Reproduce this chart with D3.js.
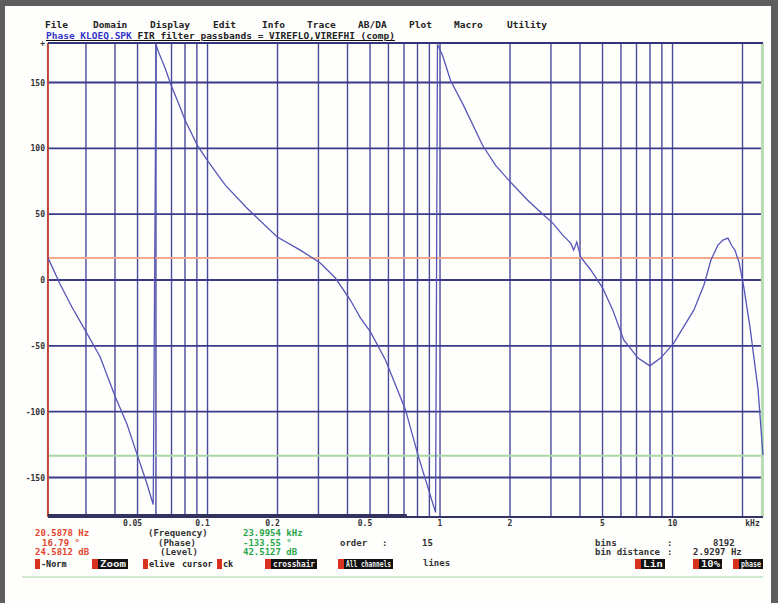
<!DOCTYPE html>
<html>
<head>
<meta charset="utf-8">
<script src="https://cdn.jsdelivr.net/npm/d3@7"></script>
<style>
  body { margin: 0; background: #fff; }
  svg { display: block; }
  text { font-family: "DejaVu Sans Mono", monospace; font-weight: bold; }
</style>
</head>
<body>
<svg id="chart"></svg>
<script>
// Phase trace (kHz, degrees), wraps at +/-180
const freqKHz = [
  0.0206, 0.0232, 0.0261, 0.0297, 0.0345, 0.0401, 0.0451, 0.0498, 0.0545, 0.0584,
  0.0601, 0.0613, 0.0658, 0.0698, 0.0748, 0.0802, 0.0904, 0.0998, 0.1192, 0.148,
  0.1995, 0.2506, 0.3055, 0.3548, 0.4113, 0.4546, 0.502, 0.582, 0.643, 0.710,
  0.807, 0.892, 0.957,
  0.975, 1.026, 1.110, 1.262, 1.524, 1.734, 2.012, 2.383, 2.709, 3.054,
  3.371, 3.648, 3.758, 3.873, 4.03, 4.45, 5.01, 5.53, 6.17, 7.09,
  7.98, 8.91, 10.14, 12.36, 13.65, 14.63, 15.68, 16.48, 17.31, 18.02,
  18.55, 19.32, 20.29, 21.53, 23.33, 24.5
];
const phaseDeg = [
  16.8, -3, -20.5, -37.9, -58.3, -88.6, -109.8, -132.6, -153, -170.5,
  178.8, 174, 160.6, 147.7, 134.8, 121.2, 102.3, 90.9, 72, 54.5,
  32.6, 22.7, 12.9, 1.5, -15.2, -28.8, -39.4, -60.6, -79.5, -98.5,
  -134, -159, -176.5,
  178.8, 170.5, 151.5, 132.6, 102.3, 87.1, 74.2, 60.6, 51.5, 43.2,
  34.1, 28, 22.7, 28.8, 17.4, 7.6, -6.1, -22.7, -45.5, -59.1,
  -65.2, -59.1, -47.7, -22.7, -3.8, 15.2, 26.5, 30.3, 31.8, 25.8,
  22.7, 13.6, -6.1, -35.6, -83.3, -133
];

const yTicks = [150, 100, 50, 0, -50, -100, -150];
const xGridFreqs = [0.03, 0.04, 0.05, 0.06, 0.07, 0.08, 0.09, 0.1, 0.2, 0.3, 0.4, 0.5,
  0.6, 0.7, 0.8, 0.9, 1, 2, 3, 4, 5, 6, 7, 8, 9, 10, 20];
const xLabelFreqs = [0.05, 0.1, 0.2, 0.5, 1, 2, 5, 10];
const xLabelTexts = ["0.05", "0.1", "0.2", "0.5", "1", "2", "5", "10"];

// cursors: red (left) and green (right)
const redCursor = { freq: 0.0205878, phase: 16.79, level: "24.5812 dB" };
const greenCursor = { freq: 23.9954, phase: -133.55, level: "42.5127 dB" };

const menuItems = ["File", "Domain", "Display", "Edit", "Info", "Trace", "AB/DA", "Plot", "Macro", "Utility"];
const menuX = [45, 93, 150, 213, 262, 307, 358, 409, 454, 507];

const W = 778, H = 603;
const plotL = 48, plotR = 763, plotT = 43, plotB = 517;

const svg = d3.select("#chart").attr("width", W).attr("height", H);

// frame
svg.append("rect").attr("width", W).attr("height", H).attr("fill", "#5e5e5e");
svg.append("rect").attr("x", 5).attr("y", 6).attr("width", 766).attr("height", H - 6).attr("fill", "#fefefc");

const x = d3.scaleLog().domain([0.0206, 24.5]).range([plotL, plotR]);
const y = d3.scaleLinear().domain([-180, 180]).range([plotB, plotT]);

// menu bar + title
svg.selectAll(".menu").data(menuItems).enter().append("text")
  .attr("x", (d, i) => menuX[i]).attr("y", 28)
  .attr("font-size", 9.5).attr("fill", "#222").text(d => d);

const title = svg.append("text").attr("x", 46).attr("y", 39).attr("font-size", 9.5)
  .attr("text-decoration", "underline");
title.append("tspan").attr("fill", "#3434c8").text("Phase KLOEQ.SPK");
title.append("tspan").attr("fill", "#222").text(" FIR filter passbands = VIREFLO,VIREFHI (comp)");

// vertical grid
svg.append("g").selectAll("line").data(xGridFreqs).enter().append("line")
  .attr("x1", d => x(d)).attr("x2", d => x(d))
  .attr("y1", plotT).attr("y2", plotB)
  .attr("stroke", "#4a4a9c").attr("stroke-width", 1.4);

// horizontal grid
svg.append("g").selectAll("line").data(yTicks).enter().append("line")
  .attr("x1", plotL).attr("x2", plotR)
  .attr("y1", d => y(d)).attr("y2", d => y(d))
  .attr("stroke", "#3a3a88").attr("stroke-width", 1.8);

// cursor lines
svg.append("line").attr("x1", plotL).attr("x2", plotR)
  .attr("y1", y(redCursor.phase)).attr("y2", y(redCursor.phase))
  .attr("stroke", "#f5a88e").attr("stroke-width", 2);
svg.append("line").attr("x1", plotL).attr("x2", plotR)
  .attr("y1", y(greenCursor.phase)).attr("y2", y(greenCursor.phase))
  .attr("stroke", "#a6d8a6").attr("stroke-width", 2);
svg.append("line").attr("x1", x(redCursor.freq)).attr("x2", x(redCursor.freq))
  .attr("y1", plotT).attr("y2", plotB)
  .attr("stroke", "#c0463a").attr("stroke-width", 2);
svg.append("line").attr("x1", x(greenCursor.freq) + 1.5).attr("x2", x(greenCursor.freq) + 1.5)
  .attr("y1", plotT).attr("y2", plotB)
  .attr("stroke", "#b6dcb4").attr("stroke-width", 3);

// top and bottom borders
svg.append("line").attr("x1", plotL).attr("x2", plotR).attr("y1", plotT).attr("y2", plotT)
  .attr("stroke", "#333377").attr("stroke-width", 2);
svg.append("line").attr("x1", plotL).attr("x2", plotR).attr("y1", plotB).attr("y2", plotB)
  .attr("stroke", "#333366").attr("stroke-width", 2);
svg.append("line").attr("x1", plotL).attr("x2", x(0.72)).attr("y1", plotB - 1.5).attr("y2", plotB - 1.5)
  .attr("stroke", "#33335e").attr("stroke-width", 3);

// trace
const line = d3.line().x((d, i) => x(freqKHz[i])).y(d => y(d));
svg.append("path").datum(phaseDeg).attr("d", line)
  .attr("fill", "none").attr("stroke", "#5656b8").attr("stroke-width", 1.3);

// y labels
svg.append("g").selectAll("text").data(yTicks).enter().append("text")
  .attr("x", plotL - 3).attr("y", d => y(d) + 3)
  .attr("text-anchor", "end").attr("font-size", 8).attr("fill", "#333").text(d => d);
svg.append("text").attr("x", plotL - 3).attr("y", plotT + 3).attr("text-anchor", "end")
  .attr("font-size", 8).attr("fill", "#333").text("+");

// x labels
svg.append("g").selectAll("text").data(xLabelFreqs).enter().append("text")
  .attr("x", d => x(d) + (d < 1 ? -5 : 0)).attr("y", 526)
  .attr("text-anchor", "middle").attr("font-size", 8).attr("fill", "#333")
  .text((d, i) => xLabelTexts[i]);
svg.append("text").attr("x", x(20) + 10).attr("y", 526).attr("text-anchor", "middle")
  .attr("font-size", 8).attr("fill", "#333").text("kHz");

// readout panel
const rows = [536, 546, 555];
const redVals = [(redCursor.freq * 1000).toFixed(4) + " Hz", redCursor.phase.toFixed(2) + " \u00b0", redCursor.level];
const greenVals = [greenCursor.freq.toFixed(4) + " kHz", greenCursor.phase.toFixed(2) + " \u00b0", greenCursor.level];
const midLabels = ["(Frequency)", "(Phase)", "(Level)"];
const redX = [35, 42, 35];
const midX = [148, 158, 160];
rows.forEach((ry, i) => {
  svg.append("text").attr("x", redX[i]).attr("y", ry).attr("font-size", 9).attr("fill", "#e4452e").text(redVals[i]);
  svg.append("text").attr("x", midX[i]).attr("y", ry).attr("font-size", 9).attr("fill", "#333").text(midLabels[i]);
  svg.append("text").attr("x", 243).attr("y", ry).attr("font-size", 9).attr("fill", "#2aa64a").text(greenVals[i]);
});
const info = [
  { t: "order", x: 340, y: 546 }, { t: ":", x: 382, y: 546 }, { t: "15", x: 422, y: 546 },
  { t: "bins", x: 595, y: 546 }, { t: ":", x: 667, y: 546 }, { t: "8192", x: 713, y: 546 },
  { t: "bin distance", x: 595, y: 555 }, { t: ":", x: 667, y: 555 }, { t: "2.9297 Hz", x: 693, y: 555 },
  { t: "lines", x: 423, y: 566 }
];
svg.append("g").selectAll("text").data(info).enter().append("text")
  .attr("x", d => d.x).attr("y", d => d.y).attr("font-size", 9).attr("fill", "#333").text(d => d.t);

// function key bar
const keys = [
  { t: "-Norm", x: 35, w: 0, box: false },
  { t: "Zoom", x: 92, w: 36, box: true },
  { t: "elive", x: 143, w: 0, box: false },
  { t: "cursor", x: 182, w: 0, box: false },
  { t: "ck", x: 217, w: 0, box: false },
  { t: "crosshair", x: 265, w: 52, box: true },
  { t: "All channels", x: 338, w: 55, box: true },
  { t: "Lin", x: 635, w: 30, box: true },
  { t: "10%", x: 693, w: 29, box: true },
  { t: "phase", x: 733, w: 30, box: true }
];
keys.forEach(k => {
  if (k.box) {
    svg.append("rect").attr("x", k.x).attr("y", 559).attr("width", k.w).attr("height", 10).attr("fill", "#111");
    svg.append("rect").attr("x", k.x).attr("y", 559).attr("width", 6).attr("height", 10).attr("fill", "#d8321e");
    svg.append("text").attr("x", k.x + 8).attr("y", 567).attr("font-size", 8.5)
      .attr("textLength", k.w - 10).attr("lengthAdjust", "spacingAndGlyphs")
      .attr("fill", "#eee").text(k.t);
  } else {
    svg.append("rect").attr("x", k.x).attr("y", 559).attr("width", 5).attr("height", 10)
      .attr("fill", "#d8321e").attr("opacity", k.t === "cursor" ? 0 : 1);
    svg.append("text").attr("x", k.x + (k.t === "cursor" ? 0 : 6)).attr("y", 567).attr("font-size", 8.5)
      .attr("fill", "#222").text(k.t);
  }
});

// bottom panel rule
svg.append("line").attr("x1", 22).attr("x2", 763).attr("y1", 577).attr("y2", 577)
  .attr("stroke", "#bfe3bf").attr("stroke-width", 1.5);
</script>
</body>
</html>
